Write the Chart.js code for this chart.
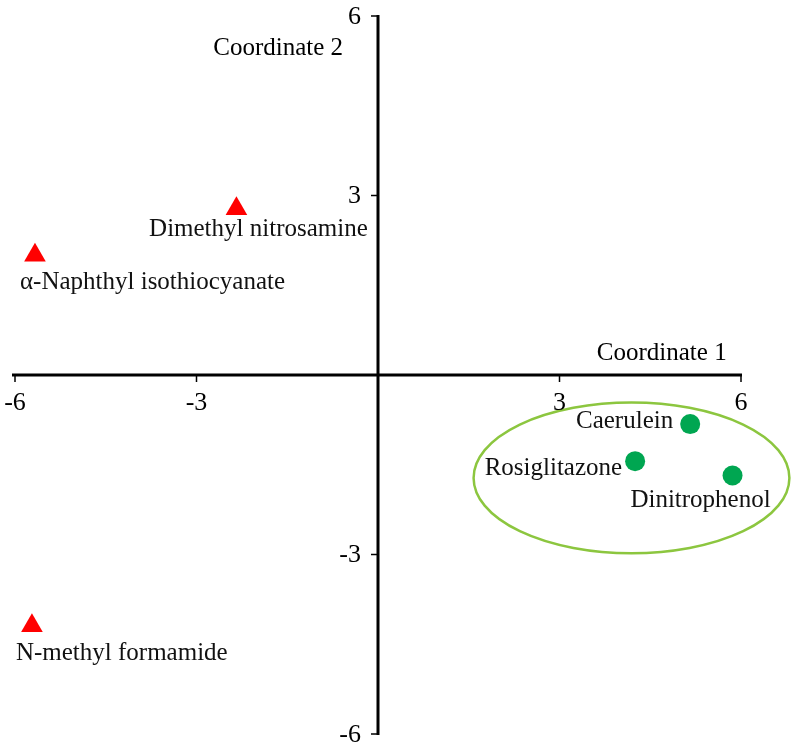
<!DOCTYPE html>
<html>
<head>
<meta charset="utf-8">
<script src="https://cdn.jsdelivr.net/npm/chart.js@4.4.1/dist/chart.umd.min.js"></script>
<style>
  html, body { margin: 0; padding: 0; background: #fff; }
  #wrap { width: 797px; height: 747px; }
</style>
</head>
<body>
<div id="wrap"><canvas id="mds"></canvas></div>
<script>
// Datos del gráfico
const redNames = ['Dimethyl nitrosamine', 'α-Naphthyl isothiocyanate', 'N-methyl formamide'];
const redX = [-2.34, -5.67, -5.72];
const redY = [2.78, 2.00, -4.19];

const greenNames = ['Caerulein', 'Rosiglitazone', 'Dinitrophenol'];
const greenX = [5.16, 4.25, 5.86];
const greenY = [-0.82, -1.44, -1.68];

const tickValues = [-6, -3, 3, 6];
const axisTitles = ['Coordinate 1', 'Coordinate 2'];

// elipse del grupo verde (centro y radios en unidades de datos)
const clusterEllipse = [4.19, -1.72, 2.61, 1.26];

const FONT = "25px 'Liberation Serif', 'DejaVu Serif', serif";
const TICK_FONT = "26px 'Liberation Serif', 'DejaVu Serif', serif";

// desplazamientos de las etiquetas en píxeles respecto al punto
const redLabelPos = [
    { dx: 22, dy: 21, align: 'center' },
    { dx: -15, dy: 27, align: 'left' },
    { dx: -16, dy: 28, align: 'left' }
];
const greenLabelPos = [
    { dx: -17, dy: -3, align: 'right' },
    { dx: -13, dy: 7, align: 'right' },
    { dx: -32, dy: 25, align: 'center' }
];

const axesPlugin = {
    id: 'axesPlugin',
    beforeDatasetsDraw(chart) {
        const ctx = chart.ctx;
        const xs = chart.scales.x;
        const ys = chart.scales.y;
        const x0 = xs.getPixelForValue(0);
        const y0 = ys.getPixelForValue(0);

        ctx.save();
        // elipse
        const [cx, cy, rx, ry] = clusterEllipse;
        ctx.strokeStyle = '#8cc63f';
        ctx.lineWidth = 2.5;
        ctx.beginPath();
        ctx.ellipse(xs.getPixelForValue(cx), ys.getPixelForValue(cy),
            Math.abs(xs.getPixelForValue(cx + rx) - xs.getPixelForValue(cx)),
            Math.abs(ys.getPixelForValue(cy + ry) - ys.getPixelForValue(cy)),
            0, 0, Math.PI * 2);
        ctx.stroke();

        // ejes
        ctx.strokeStyle = '#000';
        ctx.lineWidth = 3;
        ctx.beginPath();
        ctx.moveTo(xs.getPixelForValue(-6) - 3, y0);
        ctx.lineTo(xs.getPixelForValue(6) + 1, y0);
        ctx.moveTo(x0, ys.getPixelForValue(6) - 1);
        ctx.lineTo(x0, ys.getPixelForValue(-6) + 1);
        ctx.stroke();

        ctx.lineWidth = 1.5;
        ctx.fillStyle = '#000';
        ctx.font = TICK_FONT;
        tickValues.forEach(v => {
            const px = xs.getPixelForValue(v);
            ctx.beginPath();
            ctx.moveTo(px, y0);
            ctx.lineTo(px, y0 + 7);
            ctx.stroke();
            ctx.textAlign = 'center';
            ctx.textBaseline = 'top';
            ctx.fillText(String(v), px, y0 + 15);

            const py = ys.getPixelForValue(v);
            ctx.beginPath();
            ctx.moveTo(x0, py);
            ctx.lineTo(x0 - 7, py);
            ctx.stroke();
            ctx.textAlign = 'right';
            ctx.textBaseline = 'middle';
            ctx.fillText(String(v), x0 - 17, py + 1);
        });

        // títulos de ejes
        ctx.font = FONT;
        ctx.textAlign = 'center';
        ctx.textBaseline = 'middle';
        ctx.fillText(axisTitles[0], xs.getPixelForValue(4.69), y0 - 22);
        ctx.fillText(axisTitles[1], xs.getPixelForValue(-1.65), ys.getPixelForValue(5.45));
        ctx.restore();
    },
    afterDatasetsDraw(chart) {
        const ctx = chart.ctx;
        const xs = chart.scales.x;
        const ys = chart.scales.y;
        ctx.save();
        ctx.font = FONT;
        ctx.fillStyle = '#111';
        ctx.textBaseline = 'middle';
        const put = (names, xv, yv, pos) => {
            names.forEach((n, i) => {
                ctx.textAlign = pos[i].align;
                ctx.fillText(n, xs.getPixelForValue(xv[i]) + pos[i].dx, ys.getPixelForValue(yv[i]) + pos[i].dy);
            });
        };
        put(redNames, redX, redY, redLabelPos);
        put(greenNames, greenX, greenY, greenLabelPos);
        ctx.restore();
    }
};

new Chart(document.getElementById('mds'), {
    type: 'scatter',
    data: {
        datasets: [{
            label: 'red',
            data: redX.map((x, i) => ({ x: x, y: redY[i] })),
            pointStyle: 'triangle',
            pointRadius: 12.5,
            backgroundColor: '#ff0000',
            borderWidth: 0,
            clip: false
        }, {
            label: 'green',
            data: greenX.map((x, i) => ({ x: x, y: greenY[i] })),
            pointStyle: 'circle',
            pointRadius: 10,
            backgroundColor: '#00a651',
            borderWidth: 0,
            clip: false
        }]
    },
    options: {
        responsive: true,
        maintainAspectRatio: false,
        animation: false,
        layout: { padding: { left: 15, right: 56, top: 16, bottom: 13 } },
        scales: {
            x: { display: false, min: -6, max: 6 },
            y: { display: false, min: -6, max: 6 }
        },
        plugins: {
            legend: { display: false },
            tooltip: { enabled: false }
        }
    },
    plugins: [axesPlugin]
});
</script>
</body>
</html>
